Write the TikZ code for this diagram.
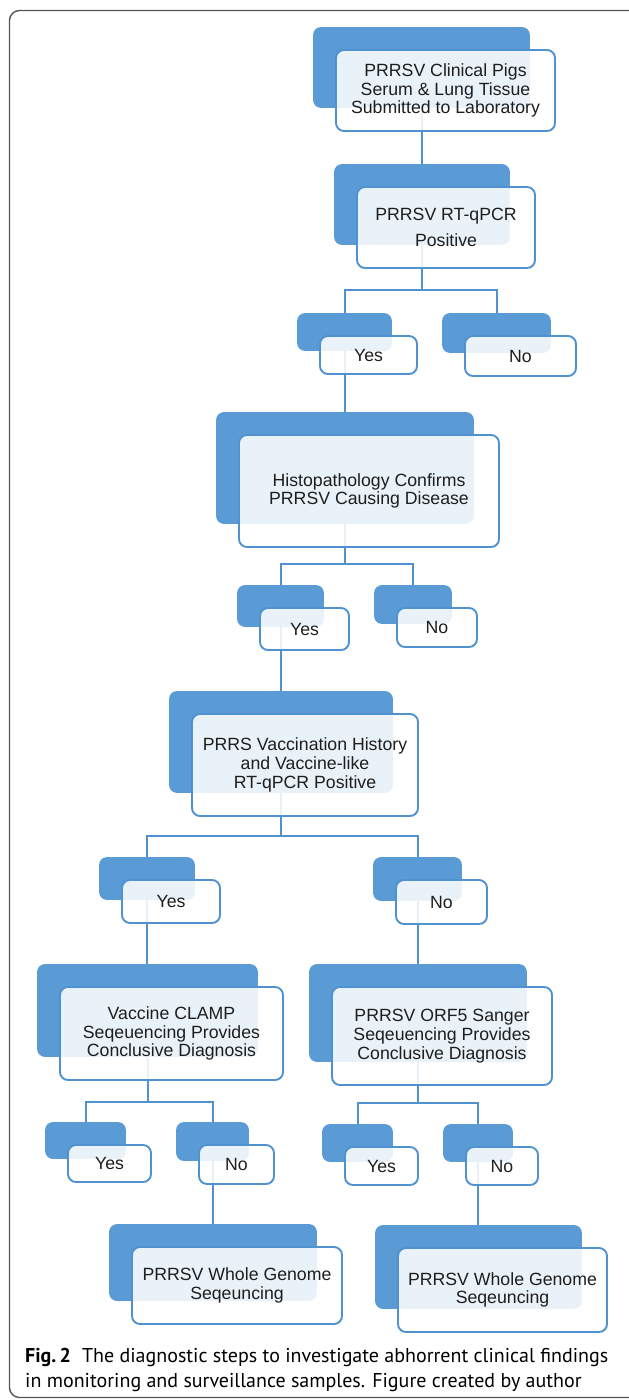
\documentclass[tikz,border=0pt]{standalone}
\usepackage{fontspec}
\setmainfont{Liberation Sans}
\newfontfamily\capfont{PT Sans}
\usetikzlibrary{calc,fit}
\definecolor{bblue}{HTML}{5B9BD5}
\definecolor{lblue}{HTML}{5092D0}
\definecolor{txt}{HTML}{1E1E1E}
\definecolor{framegray}{HTML}{555555}
\pgfdeclarelayer{connl}
\pgfdeclarelayer{backl}
\pgfsetlayers{connl,backl,main}
\newcommand\mkback[2]{%
  \coordinate (#2nw) at ($(#1.north west)+(-22,-22)$);
  \coordinate (#2se) at ($(#1.south east)+(-26,-24)$);
  \begin{pgfonlayer}{backl}\node[backbox, fit=(#2nw)(#2se)] (#2) {};\end{pgfonlayer}}
\begin{document}
\begin{tikzpicture}[x=1pt,y=-1pt,
  front/.style={draw=lblue, line width=1.9pt, fill=white, fill opacity=0.87, text opacity=1,
    rounded corners=8pt, inner sep=0pt, align=center, text=txt,
    font=\fontsize{17.7}{18.7}\selectfont},
  backbox/.style={fill=bblue, rounded corners=8pt, inner sep=0pt},
  conn/.style={draw=lblue, line width=2pt},
  captext/.style={anchor=west, inner sep=0pt, text=black, font=\capfont\fontsize{20}{22}\selectfont}]
\useasboundingbox (0,0) rectangle (629,1400);
\draw[framegray, line width=1.4pt, rounded corners=10pt] (9.5,10.5) rectangle (680,1397.5);

% front boxes
\node[front, minimum width=219pt, minimum height=81pt] (f1) at (445.5,90.5)
  {PRRSV Clinical Pigs\\Serum \& Lung Tissue\\Submitted to Laboratory};
\node[front, minimum width=178pt, minimum height=81pt] (f2) at (446,227.5)
  {PRRSV RT-qPCR\\[7pt]Positive};
\node[front, minimum width=97pt, minimum height=38pt] (y1) at (368.5,355) {Yes};
\node[front, minimum width=111pt, minimum height=40pt] (n1) at (520.5,356) {No};
\node[front, minimum width=260pt, minimum height=112pt] (f3) at (369,491)
  {Histopathology Confirms\\PRRSV Causing Disease};
\node[front, minimum width=89pt, minimum height=42pt] (y2) at (304.5,629) {Yes};
\node[front, minimum width=80pt, minimum height=39pt] (n2) at (437,627.5) {No};
\node[front, minimum width=226pt, minimum height=102pt] (f4) at (305,765)
  {PRRS Vaccination History\\and Vaccine-like\\RT-qPCR Positive};
\node[front, minimum width=98pt, minimum height=43pt] (y3) at (171,901.5) {Yes};
\node[front, minimum width=91pt, minimum height=44pt] (n3) at (441.5,902) {No};
\node[front, minimum width=223pt, minimum height=93pt] (f5) at (171.5,1033.5)
  {Vaccine CLAMP\\Seqeuencing Provides\\Conclusive Diagnosis};
\node[front, minimum width=220pt, minimum height=98pt] (f6) at (442,1036)
  {PRRSV ORF5 Sanger\\Seqeuencing Provides\\Conclusive Diagnosis};
\node[front, minimum width=83pt, minimum height=37pt] (y4) at (109.5,1163.5) {Yes};
\node[front, minimum width=75pt, minimum height=39pt] (n4) at (236.5,1164.5) {No};
\node[front, minimum width=73pt, minimum height=38pt] (y5) at (381.5,1166) {Yes};
\node[front, minimum width=72pt, minimum height=38pt] (n5) at (502,1166) {No};
\node[front, minimum width=210pt, minimum height=77pt] (f7) at (237,1285.5)
  {PRRSV Whole Genome\\Seqeuncing};
\node[front, minimum width=209pt, minimum height=84pt] (f8) at (502.5,1290)
  {PRRSV Whole Genome\\Seqeuncing};

% back boxes
\mkback{f1}{b1}\mkback{f2}{b2}\mkback{y1}{by1}\mkback{n1}{bn1}
\mkback{f3}{b3}\mkback{y2}{by2}\mkback{n2}{bn2}\mkback{f4}{b4}
\mkback{y3}{by3}\mkback{n3}{bn3}\mkback{f5}{b5}\mkback{f6}{b6}
\mkback{y4}{by4}\mkback{n4}{bn4}\mkback{y5}{by5}\mkback{n5}{bn5}
\mkback{f7}{b7}\mkback{f8}{b8}

% junctions
\coordinate (j1) at ($(b2.center |- by1.north)+(0,-23)$);
\coordinate (j2) at ($(b3.center |- by2.north)+(0,-21)$);
\coordinate (j3) at ($(b4.center |- by3.north)+(0,-21)$);
\coordinate (j4) at ($(b5.center |- by4.north)+(0,-20)$);
\coordinate (j5) at ($(b6.center |- by5.north)+(0,-21)$);

% connectors
\begin{pgfonlayer}{connl}
\draw[conn] (b1.center) -- (b1.center |- b2.north);
\draw[conn] (b2.center) -- (j1);
\draw[conn] (by1.north) |- (j1) -| (bn1.north);
\draw[conn] (by1.center) -- (by1.center |- b3.north);
\draw[conn] (b3.center) -- (j2);
\draw[conn] (by2.north) |- (j2) -| (bn2.north);
\draw[conn] (by2.center) -- (by2.center |- b4.north);
\draw[conn] (b4.center) -- (j3);
\draw[conn] (by3.north) |- (j3) -| (bn3.north);
\draw[conn] (by3.center) -- (by3.center |- b5.north);
\draw[conn] (bn3.center) -- (bn3.center |- b6.north);
\draw[conn] (b5.center) -- (j4);
\draw[conn] (by4.north) |- (j4) -| (bn4.north);
\draw[conn] (b6.center) -- (j5);
\draw[conn] (by5.north) |- (j5) -| (bn5.north);
\draw[conn] (bn4.center) -- (bn4.center |- b7.north);
\draw[conn] (bn5.center) -- (bn5.center |- b8.north);
\end{pgfonlayer}

% caption
\node[captext] (cap1) at (25,1357) {\textbf{Fig.\,2}\hspace{0.55em}The diagnostic steps to investigate abhorrent clinical findings};
\node[captext] (cap2) at (25,1383) {in monitoring and surveillance samples. Figure created by author};
\end{tikzpicture}
\end{document}
